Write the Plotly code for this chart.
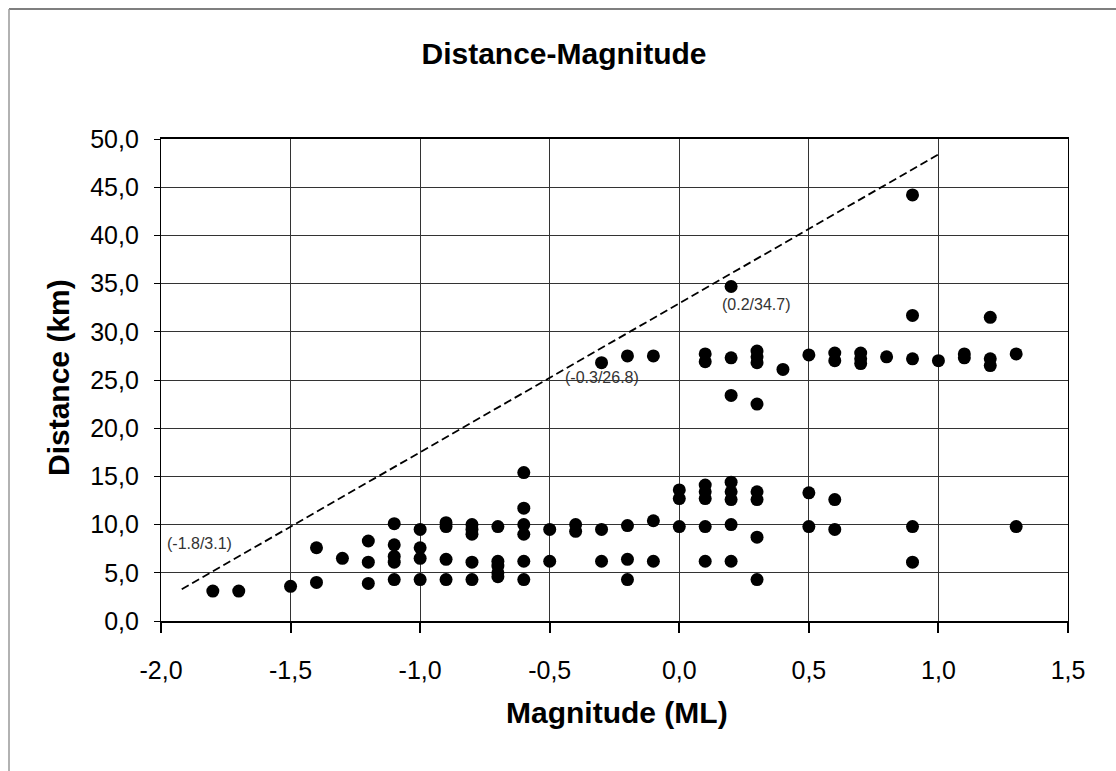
import plotly.graph_objects as go

# ---- data ----
magnitude = [
    -1.8, -1.7, -1.5, -1.4, -1.4, -1.3,
    -1.2, -1.2, -1.2,
    -1.1, -1.1, -1.1, -1.1, -1.1,
    -1.0, -1.0, -1.0, -1.0,
    -0.9, -0.9, -0.9, -0.9,
    -0.8, -0.8, -0.8, -0.8, -0.8,
    -0.7, -0.7, -0.7, -0.7, -0.7,
    -0.6, -0.6, -0.6, -0.6, -0.6, -0.6,
    -0.5, -0.5,
    -0.4, -0.4,
    -0.3, -0.3, -0.3,
    -0.2, -0.2, -0.2, -0.2,
    -0.1, -0.1, -0.1,
    0.0, 0.0, 0.0,
    0.1, 0.1, 0.1, 0.1, 0.1, 0.1, 0.1,
    0.2, 0.2, 0.2, 0.2, 0.2, 0.2, 0.2, 0.2,
    0.3, 0.3, 0.3, 0.3, 0.3, 0.3, 0.3, 0.3,
    0.4,
    0.5, 0.5, 0.5,
    0.6, 0.6, 0.6, 0.6,
    0.7, 0.7, 0.7,
    0.8,
    0.9, 0.9, 0.9, 0.9, 0.9,
    1.0,
    1.1, 1.1,
    1.2, 1.2, 1.2,
    1.3, 1.3,
]
distance = [
    3.1, 3.1, 3.6, 4.0, 7.6, 6.5,
    8.3, 6.1, 3.9,
    10.1, 7.9, 6.7, 6.1, 4.3,
    9.5, 7.6, 6.5, 4.3,
    10.2, 9.8, 6.4, 4.3,
    10.0, 9.5, 9.0, 6.1, 4.3,
    9.8, 6.2, 5.7, 5.0, 4.6,
    15.4, 11.7, 10.0, 9.0, 6.2, 4.3,
    9.5, 6.2,
    10.0, 9.3,
    26.8, 9.5, 6.2,
    27.5, 9.9, 6.4, 4.3,
    27.5, 10.4, 6.2,
    13.6, 12.7, 9.8,
    27.7, 26.9, 14.1, 13.4, 12.7, 9.8, 6.2,
    34.7, 27.3, 23.4, 14.4, 13.4, 12.6, 10.0, 6.2,
    28.0, 27.4, 26.8, 22.5, 13.4, 12.6, 8.7, 4.3,
    26.1,
    27.6, 13.3, 9.8,
    27.8, 27.0, 12.6, 9.5,
    27.8, 27.2, 26.7,
    27.4,
    44.2, 31.7, 27.2, 9.8, 6.1,
    27.0,
    27.7, 27.3,
    31.5, 27.2, 26.5,
    27.7, 9.8,
]

# envelope (dashed) line end points
line_mag = [-1.92, 1.0]
line_dist = [3.3, 48.4]

# labels of the envelope points
label_text = ["(-1.8/3.1)", "(-0.3/26.8)", "(0.2/34.7)"]
label_mag = [-1.85, -0.30, 0.295]
label_dist = [8.0, 25.3, 32.8]

x_ticks = [-2.0, -1.5, -1.0, -0.5, 0.0, 0.5, 1.0, 1.5]
x_tick_text = ["-2,0", "-1,5", "-1,0", "-0,5", "0,0", "0,5", "1,0", "1,5"]
y_ticks = [0, 5, 10, 15, 20, 25, 30, 35, 40, 45, 50]
y_tick_text = ["0,0", "5,0", "10,0", "15,0", "20,0", "25,0", "30,0", "35,0", "40,0", "45,0", "50,0"]

FONT = "Liberation Sans, Arial, sans-serif"

fig = go.Figure()
fig.add_trace(go.Scatter(
    x=line_mag, y=line_dist, mode="lines",
    line=dict(color="black", width=1.8, dash="8px,4px"),
    showlegend=False, hoverinfo="skip",
))
fig.add_trace(go.Scatter(
    x=magnitude, y=distance, mode="markers",
    marker=dict(color="black", size=13, line=dict(width=0)),
    showlegend=False,
))

for t, xm, yd in zip(label_text, label_mag, label_dist):
    fig.add_annotation(x=xm, y=yd, text=t, showarrow=False,
                       font=dict(family=FONT, size=16, color="#333"),
                       xanchor="center", yanchor="middle")

W, H = 1116, 771
L, R, T, B = 161, 48, 139, 150
pw, ph = W - L - R, H - T - B

def px2paper_x(px):
    return (px - L) / pw

def py2paper_y(py):
    return (H - B - py) / ph

# axis titles
fig.add_annotation(x=px2paper_x(58), y=py2paper_y(378), xref="paper", yref="paper",
                   text="<b>Distance (km)</b>", showarrow=False, textangle=-90,
                   font=dict(family=FONT, size=30, color="black"),
                   xanchor="center", yanchor="middle")
fig.add_annotation(x=px2paper_x(617), y=py2paper_y(712), xref="paper", yref="paper",
                   text="<b>Magnitude (ML)</b>", showarrow=False,
                   font=dict(family=FONT, size=30, color="black"),
                   xanchor="center", yanchor="middle")

# outer chart frame (top and left edges visible)
fig.add_shape(type="line", xref="paper", yref="paper",
              x0=px2paper_x(9), x1=px2paper_x(1116), y0=py2paper_y(9), y1=py2paper_y(9),
              line=dict(color="#555", width=1.5))
fig.add_shape(type="line", xref="paper", yref="paper",
              x0=px2paper_x(9), x1=px2paper_x(9), y0=py2paper_y(9), y1=py2paper_y(771),
              line=dict(color="#999", width=1.5))

fig.update_layout(
    width=W, height=H,
    margin=dict(l=L, r=R, t=T, b=B),
    paper_bgcolor="white", plot_bgcolor="white",
    font=dict(family=FONT, color="black"),
    title=dict(text="<b>Distance-Magnitude</b>", x=564 / W, xref="container",
               y=1 - 53 / H, yref="container", xanchor="center", yanchor="middle",
               font=dict(family=FONT, size=30, color="black")),
    xaxis=dict(range=[-2.0, 1.5], tickvals=x_ticks, ticktext=x_tick_text,
               showgrid=True, gridcolor="#333", gridwidth=1,
               showline=True, linecolor="black", linewidth=2, mirror=True,
               ticks="outside", ticklen=10, tickcolor="black", tickwidth=1.5,
               tickfont=dict(family=FONT, size=25, color="black"),
               ticklabelstandoff=16, zeroline=False, fixedrange=True),
    yaxis=dict(range=[0, 50], tickvals=y_ticks, ticktext=y_tick_text,
               showgrid=True, gridcolor="#333", gridwidth=1,
               showline=True, linecolor="black", linewidth=1.2, mirror=True,
               ticks="outside", ticklen=6, tickcolor="black", tickwidth=1.2,
               tickfont=dict(family=FONT, size=25, color="black"),
               ticklabelstandoff=10, zeroline=False, fixedrange=True),
)

fig.write_html("out.html")
